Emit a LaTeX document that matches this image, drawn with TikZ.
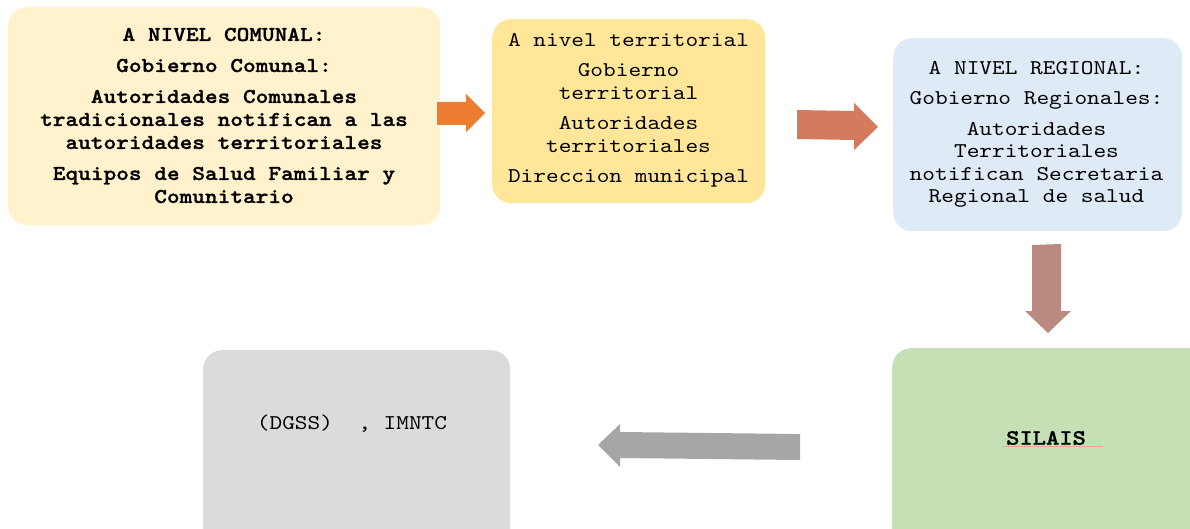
\documentclass[tikz,border=0pt]{standalone}
\usepackage{fontspec}
\setmonofont{lmmono10-regular.otf}[BoldFont=lmmonolt10-bold.otf, BoldFeatures={FakeBold=1.2}, FakeStretch=1.15]
\definecolor{cComunal}{HTML}{FFF2CC}
\definecolor{cTerr}{HTML}{FFE699}
\definecolor{cReg}{HTML}{DEEBF7}
\definecolor{cSilais}{HTML}{C5E0B4}
\definecolor{cDgss}{HTML}{DBDBDB}
\definecolor{aOrange}{HTML}{ED7D31}
\definecolor{aSalmon}{HTML}{D47B5E}
\definecolor{aBrown}{HTML}{BA8A80}
\definecolor{aGrey}{HTML}{A6A6A6}
\definecolor{uLine}{HTML}{E9A58F}
\begin{document}
\begin{tikzpicture}[x=1pt,y=-1pt,
  panel/.style={rounded corners=19pt, inner sep=0pt, draw=none, anchor=north west},
  txt/.style={font=\ttfamily\fontsize{21}{22.5}\selectfont, align=center, inner sep=0pt, text=black},
  blockarrow/.style={draw=none}]
\useasboundingbox (0,0) rectangle (1190,529);
\clip (0,0) rectangle (1190,529);
% panels
\node[panel, fill=cComunal, minimum width=432pt, minimum height=218pt] (comunal) at (8,7) {};
\node[panel, fill=cTerr, minimum width=273pt, minimum height=184pt] (terr) at (492,19) {};
\node[panel, fill=cReg, minimum width=289pt, minimum height=193pt] (reg) at (893,38) {};
\node[panel, fill=cSilais, minimum width=320pt, minimum height=240pt] (silais) at (892,348) {};
\node[panel, fill=cDgss, minimum width=307pt, minimum height=240pt] (dgss) at (203,350) {};
% texts
\node[txt, font=\ttfamily\bfseries\fontsize{21}{23}\selectfont] (tcomunal) at (224,115.5)
  {A NIVEL COMUNAL:\\[8pt] Gobierno Comunal:\\[8pt] Autoridades Comunales\\ tradicionales notifican a las\\ autoridades territoriales\\[8pt] Equipos de Salud Familiar y\\ Comunitario};
\node[txt] (tterr) at (628.5,110.5)
  {A nivel territorial\\[8pt] Gobierno\\ territorial\\[8pt] Autoridades\\ territoriales\\[8pt] Direccion municipal};
\node[txt] (treg) at (1036.5,134.5)
  {A NIVEL REGIONAL:\\[8pt] Gobierno Regionales:\\[8pt] Autoridades\\ Territoriales\\ notifican Secretaria\\ Regional de salud};
\node[txt, font=\ttfamily\bfseries\fontsize{22}{22.5}\selectfont] (tsilais) at (1046,438) {SILAIS};
\node[txt] (tdgss) at (352,424) {(DGSS)~~, IMNTC};
\draw[uLine, line width=0.9pt] (1003,446.5) -- (1103,446.5);
% block arrows
\fill[aOrange] (437,102) -- (466,102) -- (466,94) -- (485,113) -- (466,132) -- (466,125) -- (437,125) -- cycle;
\fill[aSalmon] (797,110) -- (854,111) -- (854,103) -- (878,127) -- (854,150) -- (854,140) -- (797,139) -- cycle;
\fill[aBrown] (1032,245) -- (1061,244) -- (1061,311) -- (1071,311) -- (1048,333) -- (1025,311) -- (1032,311) -- cycle;
\fill[aGrey] (800,434) -- (620,432) -- (620,424) -- (598,445) -- (620,467) -- (620,458) -- (800,460) -- cycle;
\end{tikzpicture}
\end{document}
